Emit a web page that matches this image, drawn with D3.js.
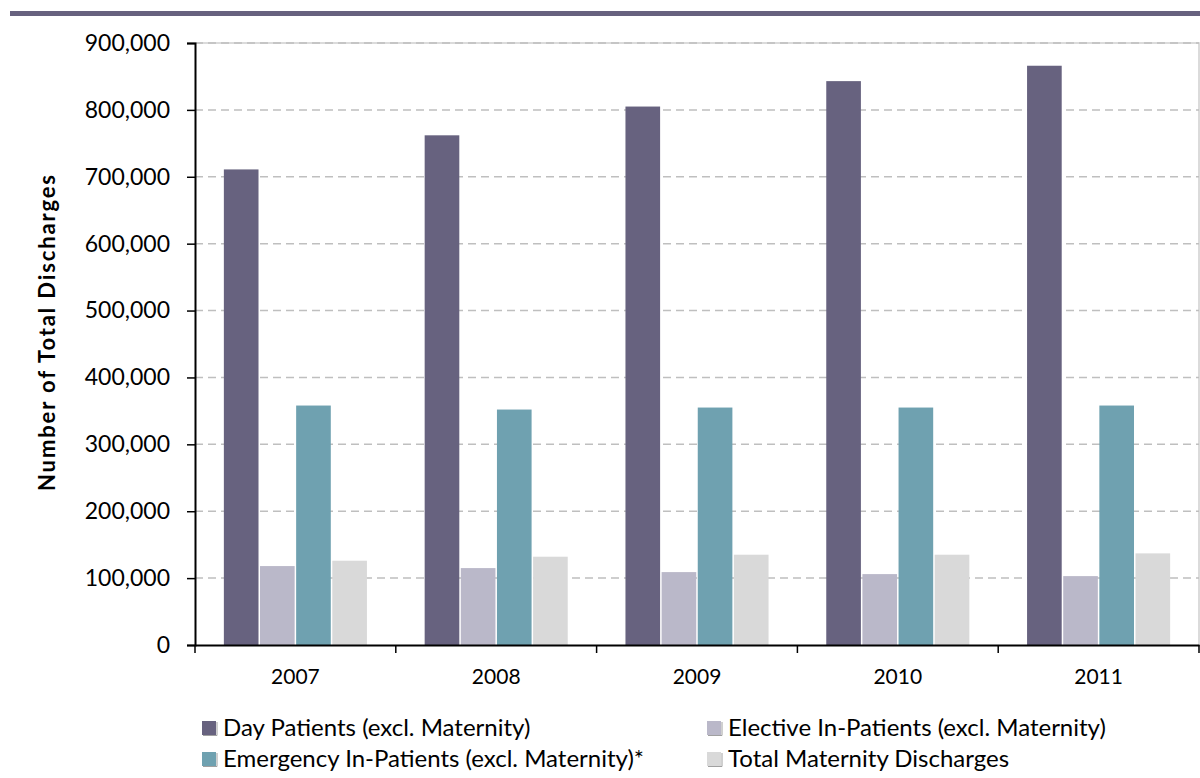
<!DOCTYPE html>
<html>
<head>
<meta charset="utf-8">
<script src="https://cdn.jsdelivr.net/npm/d3@7"></script>
<style>
  html, body { margin: 0; padding: 0; background: #ffffff; }
  svg { display: block; }
  text { font-family: Lato, "Open Sans", sans-serif; fill: #000; }
</style>
</head>
<body>
<svg id="chart" width="1200" height="778"></svg>
<script>
const years = ["2007", "2008", "2009", "2010", "2011"];
const seriesNames = [
  "Day Patients (excl. Maternity)",
  "Elective In-Patients (excl. Maternity)",
  "Emergency In-Patients (excl. Maternity)*",
  "Total Maternity Discharges"
];
const dayPatients   = [711000, 762000, 805000, 843000, 866000];
const electiveIn    = [118000, 115000, 109000, 106000, 103000];
const emergencyIn   = [358000, 352000, 355000, 355000, 358000];
const maternity     = [126000, 132000, 135000, 135000, 137000];
const yTicks = [0, 100000, 200000, 300000, 400000, 500000, 600000, 700000, 800000, 900000];
const colors = ["#67627f", "#bab8c9", "#6fa1b0", "#d9d9d9"];

const seriesValues = [dayPatients, electiveIn, emergencyIn, maternity];

const svg = d3.select("#chart");
const pLeft = 195, pRight = 1199, pTop = 43, pBottom = 645;

// top decorative band
svg.append("rect").attr("x", 10).attr("y", 11).attr("width", 1190).attr("height", 5).attr("fill", "#67627f");

const y = d3.scaleLinear().domain([0, 900000]).range([pBottom, pTop]);
const x0 = d3.scaleBand().domain(years).range([pLeft, pRight]).paddingInner(0.28).paddingOuter(0.14);
const x1 = d3.scaleBand().domain(d3.range(seriesNames.length)).range([0, x0.bandwidth()]);

// plot border (top & right)
svg.append("path")
  .attr("d", `M${pLeft},${pTop}H${pRight}V${pBottom}`)
  .attr("fill", "none").attr("stroke", "#d0d0d0").attr("stroke-width", 1.5);

// gridlines
svg.append("g").selectAll("line").data(yTicks.filter(d => d > 0)).join("line")
  .attr("x1", pLeft).attr("x2", pRight)
  .attr("y1", d => y(d)).attr("y2", d => y(d))
  .attr("stroke", "#bfbfbf").attr("stroke-width", 1.5).attr("stroke-dasharray", "8,5");

// bars
const groups = svg.append("g").selectAll("g").data(years).join("g")
  .attr("transform", d => `translate(${x0(d)},0)`);
groups.selectAll("rect")
  .data((yr, i) => seriesValues.map((vals, s) => ({ s, v: vals[i] })))
  .join("rect")
  .attr("x", d => x1(d.s) + 0.75)
  .attr("width", x1.bandwidth() - 1.5)
  .attr("y", d => y(d.v))
  .attr("height", d => y(0) - y(d.v))
  .attr("fill", d => colors[d.s]);

// y axis
const yAxis = d3.axisLeft(y).tickValues(yTicks).tickSize(8).tickPadding(17)
  .tickFormat(d3.format(","));
const gy = svg.append("g").attr("transform", `translate(${pLeft},0)`).call(yAxis);
gy.select(".domain").attr("stroke", "#000").attr("stroke-width", 2);
gy.selectAll(".tick line").attr("stroke", "#000").attr("stroke-width", 1.5);
gy.selectAll(".tick text").style("font-size", "23px").style("font-family", "Lato, sans-serif").attr("fill", "#000");

// x axis
const xAxis = d3.axisBottom(x0).tickSize(0).tickPadding(24);
const gx = svg.append("g").attr("transform", `translate(0,${pBottom})`).call(xAxis);
gx.select(".domain").attr("stroke", "#000").attr("stroke-width", 2);
gx.selectAll(".tick text").style("font-size", "21px").style("font-family", "Lato, sans-serif").attr("fill", "#000");
// category boundary ticks
const bounds = years.map(d => x0(d) - x0.step() * 0.14).concat([pRight]);
gx.append("g").selectAll("line").data(bounds).join("line")
  .attr("x1", d => d).attr("x2", d => d).attr("y1", 0).attr("y2", 8)
  .attr("stroke", "#000").attr("stroke-width", 1.5);

// y axis title
svg.append("text")
  .attr("transform", `translate(55,333) rotate(-90)`)
  .attr("text-anchor", "middle")
  .attr("textLength", 316).attr("lengthAdjust", "spacing")
  .style("font-size", "22px").style("font-weight", "bold")
  .text("Number of Total Discharges");

// legend
const legendPos = [[202, 728], [707, 728], [202, 759], [707, 759]];
const lg = svg.append("g").selectAll("g").data(seriesNames).join("g")
  .attr("transform", (d, i) => `translate(${legendPos[i][0]},${legendPos[i][1]})`);
lg.append("rect").attr("x", 0).attr("y", -7).attr("width", 14).attr("height", 14)
  .attr("fill", (d, i) => colors[i]);
lg.append("path").attr("d", "M1,7.5H15V-6").attr("fill", "none").attr("stroke", "#a0a0a0").attr("stroke-width", 1);
lg.append("text").attr("x", 21).attr("y", 8)
  .style("font-size", "24px").text(d => d);
</script>
</body>
</html>
